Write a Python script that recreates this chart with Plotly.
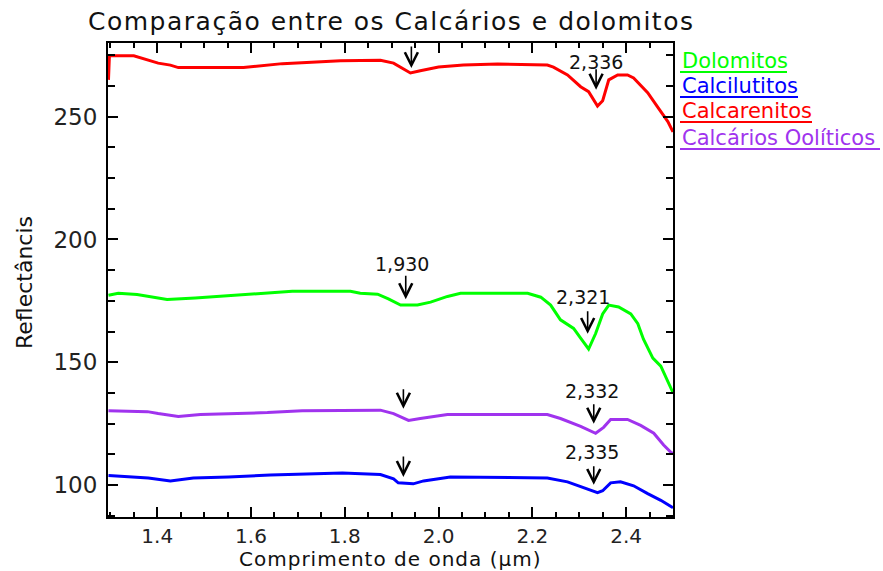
import plotly.graph_objects as go

# ---------------- data ----------------
red_x = [1.296, 1.298, 1.350, 1.370, 1.385, 1.402, 1.428, 1.445, 1.584, 1.637, 1.667, 1.791, 1.876,
         1.904, 1.929, 1.940, 1.961, 2.000, 2.053, 2.126, 2.232, 2.245, 2.275, 2.303, 2.320, 2.339,
         2.350, 2.363, 2.382, 2.403, 2.416, 2.446, 2.467, 2.489, 2.500]
red_y = [265.0, 274.8, 274.8, 273.7, 272.8, 271.8, 271.0, 270.0, 270.0, 271.0, 271.6, 272.8, 273.0,
         271.8, 269.0, 267.8, 268.7, 270.2, 271.0, 271.4, 271.0, 270.2, 267.0, 262.2, 260.2, 254.3,
         256.5, 265.0, 267.0, 267.0, 265.8, 259.8, 254.0, 248.0, 243.8]

green_x = [1.296, 1.317, 1.357, 1.391, 1.421, 1.481, 1.556, 1.641, 1.688, 1.812, 1.833, 1.870, 1.893,
           1.919, 1.955, 1.983, 2.019, 2.047, 2.190, 2.218, 2.239, 2.260, 2.275, 2.288, 2.303, 2.320,
           2.335, 2.350, 2.363, 2.384, 2.410, 2.425, 2.437, 2.457, 2.474, 2.500]
green_y = [177.3, 178.1, 177.6, 176.5, 175.6, 176.2, 177.2, 178.1, 178.9, 178.9, 178.1, 177.7, 175.8,
           173.3, 173.3, 174.5, 176.8, 178.1, 178.1, 176.5, 173.3, 167.3, 165.3, 163.8, 159.8, 155.4,
           161.7, 169.7, 173.3, 172.5, 169.7, 165.7, 159.4, 151.7, 148.4, 137.6]

purple_x = [1.296, 1.379, 1.402, 1.445, 1.492, 1.635, 1.709, 1.876, 1.904, 1.936, 1.961, 2.019, 2.232,
            2.260, 2.303, 2.335, 2.352, 2.367, 2.403, 2.431, 2.459, 2.480, 2.495, 2.500]
purple_y = [130.3, 129.9, 129.1, 127.9, 128.7, 129.5, 130.3, 130.5, 129.1, 126.3, 127.1, 128.7, 128.7,
            127.1, 123.9, 121.1, 123.5, 126.7, 126.7, 124.3, 121.1, 116.3, 113.4, 112.8]

blue_x = [1.296, 1.347, 1.381, 1.428, 1.477, 1.552, 1.641, 1.795, 1.876, 1.904, 1.914, 1.946, 1.968,
          2.025, 2.232, 2.275, 2.318, 2.339, 2.350, 2.367, 2.388, 2.416, 2.446, 2.474, 2.500]
blue_y = [103.9, 103.3, 102.9, 101.7, 102.9, 103.3, 104.1, 104.9, 104.3, 102.5, 100.9, 100.5, 101.7,
          103.3, 102.9, 101.3, 98.5, 96.9, 97.7, 100.9, 101.3, 99.7, 96.5, 93.8, 90.8]

series_names = ["Dolomitos", "Calcilutitos", "Calcarenitos", "Calcários Oolíticos"]
series_colors = ["#00ff00", "#0000ff", "#ff0000", "#a033ee"]

# absorption-feature arrows: tip position (x, y) and pixel length
arrow_x = [1.942, 2.336, 1.930, 2.318, 1.925, 2.331, 1.925, 2.331]
arrow_y = [269.8, 261.0, 175.7, 161.6, 131.1, 125.0, 103.3, 100.1]
arrow_len = [23, 22, 25, 24, 21, 21, 22, 20]

# feature labels
label_text = ["2,336", "1,930", "2,321", "2,332", "2,335"]
label_x = [2.336, 1.923, 2.307, 2.328, 2.328]
label_y = [272.2, 190.2, 176.5, 138.3, 113.4]

x_ticks = [1.4, 1.6, 1.8, 2.0, 2.2, 2.4]
x_ticktext = ["1.4", "1.6", "1.8", "2.0", "2.2", "2.4"]
y_ticks = [100, 150, 200, 250]

FONT = "DejaVu Sans"

fig = go.Figure()
traces = [(green_x, green_y, 0), (blue_x, blue_y, 1), (red_x, red_y, 2), (purple_x, purple_y, 3)]
for xs, ys, i in traces:
    fig.add_trace(go.Scatter(x=xs, y=ys, mode="lines", name=series_names[i],
                             line=dict(color=series_colors[i], width=3), showlegend=False))

annotations = []
for ax_, ay_, ln in zip(arrow_x, arrow_y, arrow_len):
    annotations.append(dict(x=ax_, y=ay_, xref="x", yref="y", text="", showarrow=True,
                            ax=0, ay=-ln, arrowhead=5, arrowsize=1.6, arrowwidth=1.6,
                            arrowcolor="black"))
for t, lx, ly in zip(label_text, label_x, label_y):
    annotations.append(dict(x=lx, y=ly, xref="x", yref="y", text=t, showarrow=False,
                            font=dict(family=FONT, size=19, color="#111"),
                            xanchor="center", yanchor="middle"))

# legend-like coloured, underlined labels
leg_y_px = [61, 86, 111, 138]
leg_end_px = [787, 798, 812, 880]
leg_order = [0, 1, 2, 3]
shapes = []
L, R, T, B = 108, 673, 43, 517
W, H = R - L, B - T
for k, i in enumerate(leg_order):
    py = leg_y_px[k]
    annotations.append(dict(x=(680 - L) / W, y=(B - py) / H, xref="paper", yref="paper",
                            text=series_names[i], showarrow=False, xanchor="left",
                            yanchor="middle", font=dict(family=FONT, size=21,
                                                        color=series_colors[i])))
    shapes.append(dict(type="line", xref="paper", yref="paper",
                       x0=(680 - L) / W, x1=(leg_end_px[k] - L) / W,
                       y0=(B - py - 11) / H, y1=(B - py - 11) / H,
                       line=dict(color=series_colors[i], width=2)))

# titles
annotations.append(dict(x=(391 - L) / W, y=(B - 22) / H, xref="paper", yref="paper",
                        text="<span style='letter-spacing:1.5px'>Comparação entre os Calcários e dolomitos</span>",
                        showarrow=False, xanchor="center", yanchor="middle",
                        font=dict(family=FONT, size=25, color="#111")))
annotations.append(dict(x=(390 - L) / W, y=(B - 558.5) / H, xref="paper", yref="paper",
                        text="<span style='letter-spacing:1px'>Comprimento de onda (µm)</span>",
                        showarrow=False, xanchor="center", yanchor="middle",
                        font=dict(family=FONT, size=20, color="#111")))
annotations.append(dict(x=(24 - L) / W, y=(B - 283) / H, xref="paper", yref="paper",
                        text="Reflectâncis", showarrow=False, textangle=-90,
                        xanchor="center", yanchor="middle",
                        font=dict(family=FONT, size=22, color="#111")))

axis_common = dict(showline=True, linecolor="black", linewidth=2, mirror="allticks",
                   ticks="inside", tickcolor="black", tickwidth=2, ticklen=10,
                   showgrid=False, zeroline=False)

fig.update_layout(
    width=883, height=571,
    margin=dict(l=L, r=883 - R, t=T, b=571 - B),
    plot_bgcolor="white", paper_bgcolor="white",
    xaxis=dict(range=[1.295, 2.5], tickvals=x_ticks, ticktext=x_ticktext,
               minor=dict(dtick=0.05, tick0=1.3, ticks="inside", ticklen=5,
                          tickcolor="black", tickwidth=2),
               ticklabelstandoff=0,
               tickfont=dict(family=FONT, size=20, color="#222"), **axis_common),
    yaxis=dict(range=[87, 280], tickvals=y_ticks,
               minor=dict(dtick=12.5, tick0=0, ticks="inside", ticklen=7,
                          tickcolor="black", tickwidth=2),
               ticklabelstandoff=4,
               tickfont=dict(family=FONT, size=23, color="#222"), **axis_common),
    annotations=annotations, shapes=shapes,
    showlegend=False,
)

fig.write_html("out.html", config={"displayModeBar": False},
               post_script=["document.body.style.margin='0px';"
                            "document.body.style.overflow='hidden';"])
